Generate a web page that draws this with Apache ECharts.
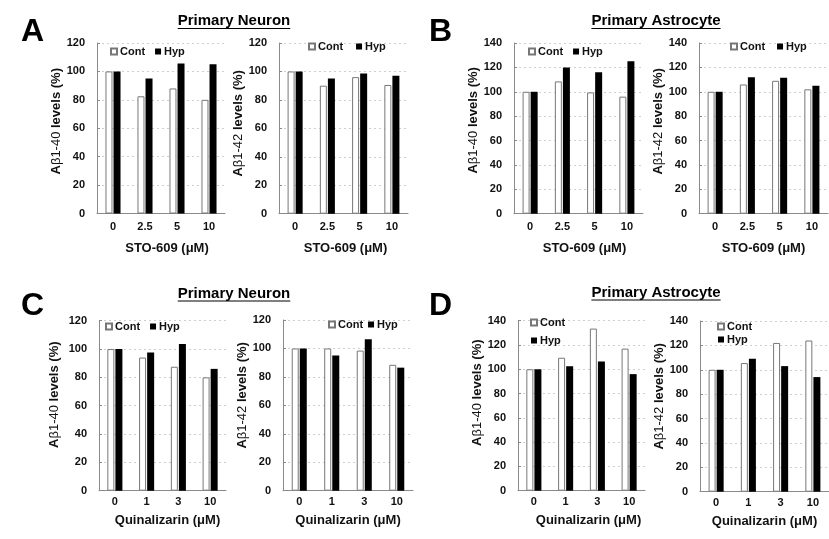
<!DOCTYPE html>
<html>
<head>
<meta charset="utf-8">
<script src="https://cdn.jsdelivr.net/npm/echarts@6/dist/echarts.min.js"></script>
<style>
html,body{margin:0;padding:0;background:#fff;}
#chart{width:829px;height:539px;}
</style>
</head>
<body>
<div id="chart"></div>
<script>
// ---- Data ----
const catsSTO = ['0', '2.5', '5', '10'];
const catsQuin = ['0', '1', '3', '10'];

const neuronSTO40Cont = [100, 82.5, 88, 80];
const neuronSTO40Hyp  = [100, 95, 105.5, 105];
const neuronSTO42Cont = [100, 90, 96, 90.5];
const neuronSTO42Hyp  = [100, 95, 98.5, 97];

const astroSTO40Cont = [100, 108.5, 99.5, 96];
const astroSTO40Hyp  = [100, 120, 116, 125];
const astroSTO42Cont = [100, 106, 109, 102];
const astroSTO42Hyp  = [100, 112, 111.5, 105];

const neuronQ40Cont = [100, 94, 87.5, 80];
const neuronQ40Hyp  = [100, 97.5, 103.5, 86];
const neuronQ42Cont = [100, 100, 98.5, 88.5];
const neuronQ42Hyp  = [100, 95, 106.5, 86.5];

const astroQ40Cont = [100, 109.5, 133.5, 117];
const astroQ40Hyp  = [100, 102.5, 106.5, 96];
const astroQ42Cont = [100, 105.5, 122, 124];
const astroQ42Hyp  = [100, 109, 103, 94];

const seriesNames = ['Cont', 'Hyp'];
const xNameSTO = 'STO-609 (\u03bcM)';
const xNameQuin = 'Quinalizarin (\u03bcM)';
const yName40 = '{a|A}{b|\u03b21-40}{a| levels (%)}';
const yName42 = '{a|A}{b|\u03b21-42}{a| levels (%)}';

// ---- Layout ----
const FF = '"Liberation Sans", Arial, sans-serif';
const panels = [
  {cats: catsSTO, cont: neuronSTO40Cont, hyp: neuronSTO40Hyp, max: 120, yName: yName40, xName: xNameSTO,
   grid: {left: 97, top: 43, width: 128, height: 170.5}, yGap: 32, yUp: 7, xGap: 28, xPad: 12, lblM: 8,
   legend: {left: 110, top: 46, itemGap: 10, orient: 'horizontal'}},
  {cats: catsSTO, cont: neuronSTO42Cont, hyp: neuronSTO42Hyp, max: 120, yName: yName42, xName: xNameSTO,
   grid: {left: 279, top: 43, width: 129, height: 170.7}, yGap: 25.5, yUp: 5, xGap: 28, xPad: 4, lblM: 8,
   legend: {left: 308, top: 41, itemGap: 13, orient: 'horizontal'}},
  {cats: catsSTO, cont: astroSTO40Cont, hyp: astroSTO40Hyp, max: 140, yName: yName40, xName: xNameSTO,
   grid: {left: 514, top: 43, width: 129, height: 170.7}, yGap: 30, yUp: 8, xGap: 28, xPad: 12, lblM: 8,
   legend: {left: 528, top: 46, itemGap: 10, orient: 'horizontal'}},
  {cats: catsSTO, cont: astroSTO42Cont, hyp: astroSTO42Hyp, max: 140, yName: yName42, xName: xNameSTO,
   grid: {left: 699, top: 43, width: 129, height: 170.7}, yGap: 25, yUp: 7, xGap: 28, xPad: 0, lblM: 8,
   legend: {left: 730, top: 41, itemGap: 12, orient: 'horizontal'}},
  {cats: catsQuin, cont: neuronQ40Cont, hyp: neuronQ40Hyp, max: 120, yName: yName40, xName: xNameQuin,
   grid: {left: 99, top: 320.7, width: 127, height: 170}, yGap: 38, yUp: 11, xGap: 23, xPad: 10, lblM: 6,
   legend: {left: 105, top: 321, itemGap: 10, orient: 'horizontal'}},
  {cats: catsQuin, cont: neuronQ42Cont, hyp: neuronQ42Hyp, max: 120, yName: yName42, xName: xNameQuin,
   grid: {left: 283, top: 320, width: 130, height: 170.7}, yGap: 33, yUp: 10, xGap: 23, xPad: 0, lblM: 6,
   legend: {left: 328, top: 319, itemGap: 5, orient: 'horizontal'}},
  {cats: catsQuin, cont: astroQ40Cont, hyp: astroQ40Hyp, max: 140, yName: yName40, xName: xNameQuin,
   grid: {left: 518, top: 320.7, width: 127, height: 170}, yGap: 34, yUp: 13, xGap: 23, xPad: 14, lblM: 6,
   legend: {left: 530, top: 317, itemGap: 7, orient: 'vertical'}},
  {cats: catsQuin, cont: astroQ42Cont, hyp: astroQ42Hyp, max: 140, yName: yName42, xName: xNameQuin,
   grid: {left: 700, top: 321, width: 129, height: 170.7}, yGap: 30, yUp: 10, xGap: 23, xPad: 0, lblM: 6,
   legend: {left: 717, top: 321, itemGap: 2, orient: 'vertical'}}
];

const grids = [], xAxes = [], yAxes = [], series = [], legends = [];
panels.forEach((p, i) => {
  grids.push(Object.assign({outerBoundsMode: 'none', containLabel: false}, p.grid));
  xAxes.push({
    type: 'category', gridIndex: i, data: p.cats,
    name: p.xName, nameLocation: 'middle', nameGap: p.xGap,
    nameTextStyle: {fontFamily: FF, fontWeight: 'bold', fontSize: 13, color: '#111', padding: [0, 0, 0, p.xPad]},
    axisLine: {lineStyle: {color: '#8a8a8a', width: 1}},
    axisTick: {show: false},
    axisLabel: {fontFamily: FF, fontWeight: 'bold', fontSize: 11, color: '#111', margin: p.lblM},
    splitLine: {show: false}
  });
  yAxes.push({
    type: 'value', gridIndex: i, min: 0, max: p.max, interval: 20,
    name: p.yName, nameLocation: 'middle', nameRotate: 90, nameGap: p.yGap,
    nameTextStyle: {
      color: '#111',
      padding: [0, 0, 0, 2 * p.yUp],
      rich: {
        a: {fontFamily: FF, fontWeight: 'bold', fontSize: 13, color: '#111'},
        b: {fontFamily: FF, fontWeight: 'normal', fontSize: 13, color: '#111'}
      }
    },
    axisLine: {show: true, lineStyle: {color: '#8a8a8a', width: 1}},
    axisTick: {show: true, inside: true, length: 3, lineStyle: {color: '#8a8a8a'}},
    axisLabel: {fontFamily: FF, fontWeight: 'bold', fontSize: 11, color: '#111', margin: 12},
    splitLine: {show: true, lineStyle: {color: '#cfcfcf', type: [2, 3], width: 1}}
  });
  series.push({
    name: seriesNames[0], type: 'bar', xAxisIndex: i, yAxisIndex: i, data: p.cont,
    barWidth: 7, barGap: '15%',
    itemStyle: {color: '#ffffff', borderColor: '#777', borderWidth: 1},
    emphasis: {disabled: true}
  });
  series.push({
    name: seriesNames[1], type: 'bar', xAxisIndex: i, yAxisIndex: i, data: p.hyp,
    barWidth: 7, barGap: '15%',
    itemStyle: {color: '#000000'},
    emphasis: {disabled: true}
  });
  legends.push({
    data: seriesNames, left: p.legend.left, top: p.legend.top, orient: p.legend.orient,
    itemGap: p.legend.itemGap, itemWidth: 6, itemHeight: 6, padding: 0, icon: 'rect',
    selectedMode: false,
    textStyle: {fontFamily: FF, fontWeight: 'bold', fontSize: 11, color: '#111', padding: [0, 0, 0, -2]}
  });
});

// ---- Decorations: titles, underlines, panel letters ----
const cvs = document.createElement('canvas').getContext('2d');
function textW(t, font) { cvs.font = font; return cvs.measureText(t).width; }
const titleFont = 'bold 15px ' + FF;
const titles = [
  {text: 'Primary Neuron', cx: 234, cy: 21, uy: 28.5},
  {text: 'Primary Astrocyte', cx: 656, cy: 21, uy: 28.5},
  {text: 'Primary Neuron', cx: 234, cy: 294, uy: 301},
  {text: 'Primary Astrocyte', cx: 656, cy: 293, uy: 300}
];
const letters = [
  {text: 'A', x: 21, y: 32},
  {text: 'B', x: 429, y: 32},
  {text: 'C', x: 21, y: 306},
  {text: 'D', x: 429, y: 306}
];
const graphics = [];
titles.forEach(t => {
  const w = textW(t.text, titleFont);
  graphics.push({type: 'text', x: t.cx, y: t.cy,
    style: {text: t.text, font: titleFont, fill: '#000', align: 'center', verticalAlign: 'middle'}});
  graphics.push({type: 'line', shape: {x1: t.cx - w / 2, y1: t.uy, x2: t.cx + w / 2, y2: t.uy},
    style: {stroke: '#000', lineWidth: 1}});
});
letters.forEach(l => {
  graphics.push({type: 'text', x: l.x, y: l.y,
    style: {text: l.text, font: 'bold 32px ' + FF, fill: '#000', align: 'left', verticalAlign: 'middle'}});
});

const chart = echarts.init(document.getElementById('chart'), null, {renderer: 'canvas'});
chart.setOption({
  animation: false,
  backgroundColor: '#ffffff',
  grid: grids,
  xAxis: xAxes,
  yAxis: yAxes,
  legend: legends,
  series: series,
  graphic: graphics
});
</script>
</body>
</html>
